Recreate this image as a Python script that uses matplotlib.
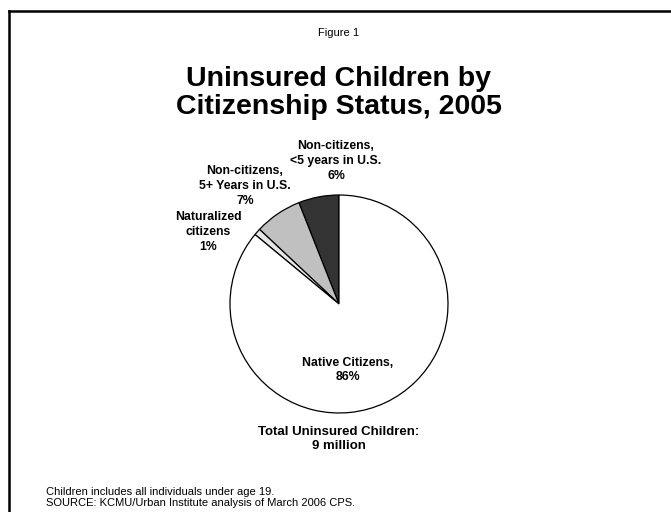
import matplotlib
matplotlib.use("Agg")
import matplotlib.pyplot as plt
from matplotlib.lines import Line2D

plt.rcParams['font.family'] = ['Liberation Sans', 'DejaVu Sans']

categories = ["Non-citizens,\n<5 years in U.S.", "Non-citizens,\n5+ Years in U.S.",
              "Naturalized\ncitizens", "Native Citizens,"]
shares = [6, 7, 1, 86]
colors = ["#333333", "#c0c0c0", "#e6e6e6", "#ffffff"]
label_pos = [(336, 161), (245, 186), (208, 232), (348, 370)]  # pixel centers

W, H = 671, 512
fig = plt.figure(figsize=(W / 100, H / 100), dpi=100)

# frame lines along top and left
fig.add_artist(Line2D([9 / W, 1], [1 - 11 / H, 1 - 11 / H], color="black", lw=1.8))
fig.add_artist(Line2D([9 / W, 9 / W], [0, 1 - 11 / H], color="black", lw=1.8))

cx, cy, r = 339, 304, 109
ax = fig.add_axes([(cx - r) / W, 1 - (cy + r) / H, 2 * r / W, 2 * r / H])
ax.pie(shares, colors=colors, startangle=90, counterclock=True,
       wedgeprops=dict(edgecolor="black", linewidth=0.9))
ax.set_xlim(-1, 1)
ax.set_ylim(-1, 1)
ax.set_aspect("auto")
ax.axis("off")

for cat, val, (px, py) in zip(categories, shares, label_pos):
    fig.text(px / W, 1 - py / H, f"{cat}\n{val}%", ha="center", va="center",
             fontsize=8.8, fontweight="bold", linespacing=1.3)

fig.text(cx / W, 1 - 33 / H, "Figure 1", ha="center", va="center", fontsize=8)
fig.text(cx / W, 1 - 93 / H, "Uninsured Children by\nCitizenship Status, 2005",
         ha="center", va="center", fontsize=20.5, fontweight="bold", linespacing=1.1)
fig.text(cx / W, 1 - 439 / H, "Total Uninsured Children:\n9 million",
         ha="center", va="center", fontsize=9.5, fontweight="bold", linespacing=1.25)
fig.text(46 / W, 1 - 497.5 / H,
         "Children includes all individuals under age 19.\nSOURCE: KCMU/Urban Institute analysis of March 2006 CPS.",
         ha="left", va="center", fontsize=8, linespacing=1.05)

fig.savefig("out.png", dpi=100)
